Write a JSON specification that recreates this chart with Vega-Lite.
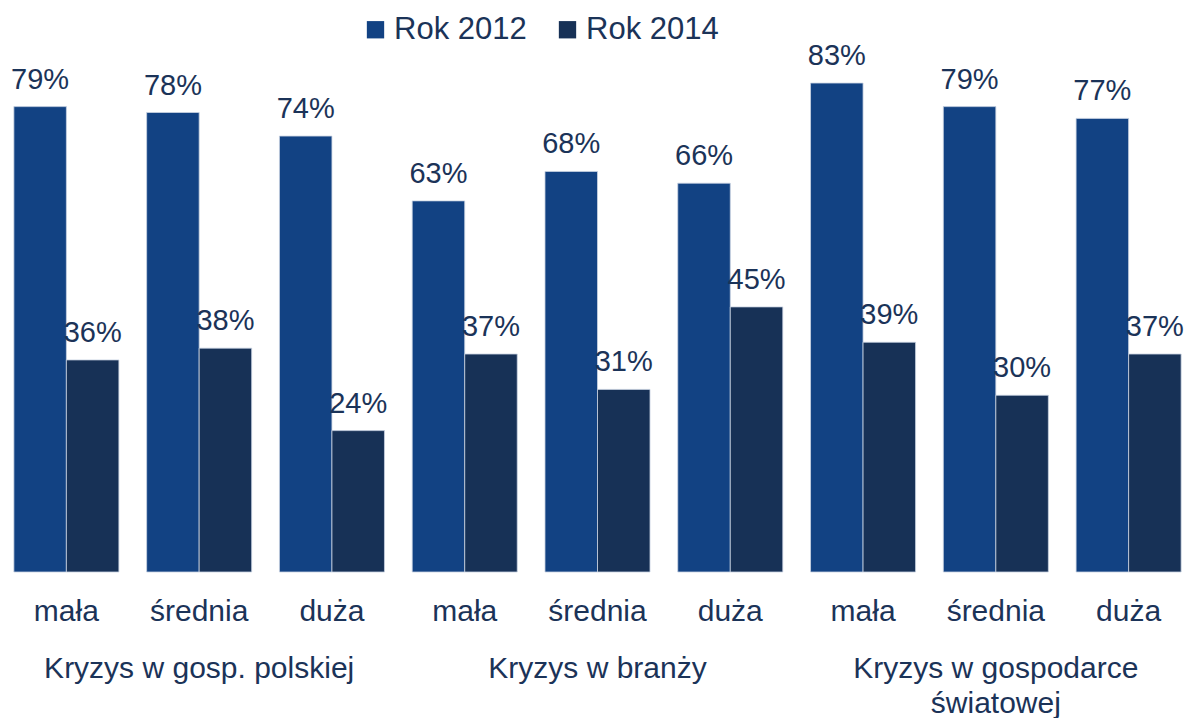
{
  "$schema": "https://vega.github.io/schema/vega-lite/v6.json",
  "width": 1184,
  "height": 572,
  "autosize": {"type": "none"},
  "padding": {"left": 0, "top": 0, "right": 0, "bottom": 146},
  "background": "white",
  "config": {
    "view": {"stroke": null},
    "font": "Liberation Sans",
    "text": {"font": "Liberation Sans"}
  },
  "data": {
    "values": [
      {"cat": "Kryzys w gosp. polskiej|mała", "year": "Rok 2012", "value": 0.79},
      {"cat": "Kryzys w gosp. polskiej|mała", "year": "Rok 2014", "value": 0.36},
      {"cat": "Kryzys w gosp. polskiej|średnia", "year": "Rok 2012", "value": 0.78},
      {"cat": "Kryzys w gosp. polskiej|średnia", "year": "Rok 2014", "value": 0.38},
      {"cat": "Kryzys w gosp. polskiej|duża", "year": "Rok 2012", "value": 0.74},
      {"cat": "Kryzys w gosp. polskiej|duża", "year": "Rok 2014", "value": 0.24},
      {"cat": "Kryzys w branży|mała", "year": "Rok 2012", "value": 0.63},
      {"cat": "Kryzys w branży|mała", "year": "Rok 2014", "value": 0.37},
      {"cat": "Kryzys w branży|średnia", "year": "Rok 2012", "value": 0.68},
      {"cat": "Kryzys w branży|średnia", "year": "Rok 2014", "value": 0.31},
      {"cat": "Kryzys w branży|duża", "year": "Rok 2012", "value": 0.66},
      {"cat": "Kryzys w branży|duża", "year": "Rok 2014", "value": 0.45},
      {"cat": "Kryzys w gospodarce światowej|mała", "year": "Rok 2012", "value": 0.83},
      {"cat": "Kryzys w gospodarce światowej|mała", "year": "Rok 2014", "value": 0.39},
      {"cat": "Kryzys w gospodarce światowej|średnia", "year": "Rok 2012", "value": 0.79},
      {"cat": "Kryzys w gospodarce światowej|średnia", "year": "Rok 2014", "value": 0.30},
      {"cat": "Kryzys w gospodarce światowej|duża", "year": "Rok 2012", "value": 0.77},
      {"cat": "Kryzys w gospodarce światowej|duża", "year": "Rok 2014", "value": 0.37}
    ]
  },
  "resolve": {"axis": {"x": "independent"}},
  "layer": [
    {
      "mark": {"type": "bar", "stroke": "#c9d3e2", "strokeWidth": 0.8},
      "encoding": {
        "x": {
          "field": "cat",
          "type": "nominal",
          "sort": null,
          "scale": {"range": [0, 1195], "paddingInner": 0.209, "paddingOuter": 0.1045},
          "axis": {
            "title": null,
            "orient": "bottom",
            "domain": false,
            "ticks": false,
            "labelAngle": 0,
            "labelBaseline": "alphabetic",
            "labelPadding": 48,
            "labelFontSize": 30,
            "labelColor": "#1b3358",
            "labelFont": "Liberation Sans",
            "labelLimit": 400,
            "labelOverlap": false,
            "labelExpr": "split(datum.value,'|')[1]"
          }
        },
        "xOffset": {"field": "year", "type": "nominal", "scale": {"paddingInner": 0, "paddingOuter": 0}},
        "y": {
          "field": "value",
          "type": "quantitative",
          "scale": {"domain": [0, 0.971], "nice": false, "zero": true},
          "axis": null
        },
        "color": {
          "field": "year",
          "type": "nominal",
          "scale": {"domain": ["Rok 2012", "Rok 2014"], "range": ["#124283", "#173156"]},
          "legend": {
            "title": null,
            "orient": "none",
            "legendX": 360,
            "legendY": 14,
            "direction": "horizontal",
            "symbolType": "square",
            "symbolSize": 300,
            "symbolStrokeWidth": 0,
            "labelFontSize": 31,
            "labelColor": "#1b3358",
            "labelFont": "Liberation Sans",
            "columnPadding": 25,
            "labelOffset": 3,
            "symbolOffset": 0,
            "padding": 0
          }
        }
      }
    },
    {
      "mark": {"type": "text", "baseline": "alphabetic", "dy": -18, "fontSize": 29, "color": "#1b3358", "font": "Liberation Sans"},
      "encoding": {
        "x": {
          "field": "cat",
          "type": "nominal",
          "sort": null,
          "axis": {
            "title": null,
            "orient": "bottom",
            "offset": 57,
            "domain": false,
            "ticks": false,
            "labelAngle": 0,
            "labelBaseline": "alphabetic",
            "labelPadding": 48,
            "labelFontSize": 30,
            "labelColor": "#1b3358",
            "labelFont": "Liberation Sans",
            "labelLineHeight": 35,
            "labelLimit": 400,
            "labelOverlap": false,
            "labelExpr": "split(datum.value,'|')[1] == 'średnia' ? (split(datum.value,'|')[0] == 'Kryzys w gospodarce światowej' ? ['Kryzys w gospodarce','światowej'] : split(datum.value,'|')[0]) : ''"
          }
        },
        "xOffset": {"field": "year", "type": "nominal"},
        "y": {"field": "value", "type": "quantitative"},
        "text": {"field": "value", "type": "quantitative", "format": ".0%"}
      }
    }
  ]
}
